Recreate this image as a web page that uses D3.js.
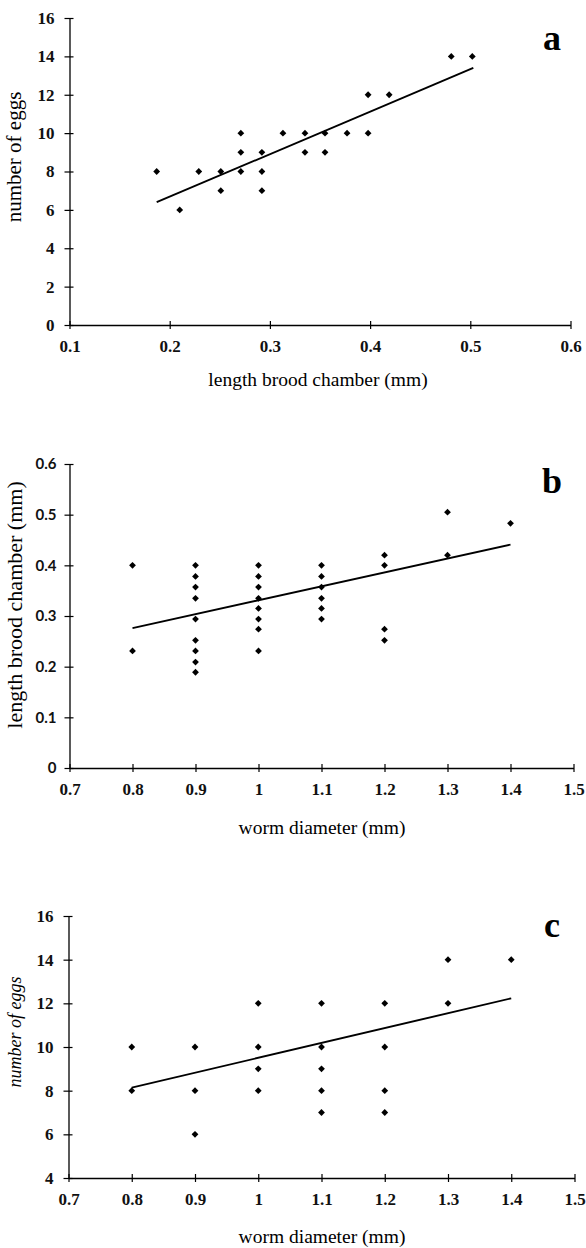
<!DOCTYPE html>
<html>
<head>
<meta charset="utf-8">
<script src="https://cdn.jsdelivr.net/npm/d3@7"></script>
<style>
  body { margin: 0; background: #fff; }
  svg { display: block; }
</style>
</head>
<body>
<svg id="chart" width="586" height="1248"></svg>
<script>
// panel a: length brood chamber (mm) vs number of eggs
const aLength = [0.187, 0.210, 0.229, 0.251, 0.251, 0.271, 0.271, 0.271, 0.292, 0.292, 0.292,
                 0.313, 0.335, 0.335, 0.355, 0.355, 0.377, 0.398, 0.398, 0.419, 0.481, 0.502];
const aEggs = [8, 6, 8, 8, 7, 10, 9, 8, 9, 8, 7, 10, 10, 9, 10, 9, 10, 12, 10, 12, 14, 14];
const aFit = [[0.187, 6.4], [0.503, 13.4]];

// panel b: worm diameter (mm) vs length brood chamber (mm)
const bDiam = [0.8, 0.8,
               0.9, 0.9, 0.9, 0.9, 0.9, 0.9, 0.9, 0.9, 0.9,
               1.0, 1.0, 1.0, 1.0, 1.0, 1.0, 1.0, 1.0,
               1.1, 1.1, 1.1, 1.1, 1.1, 1.1,
               1.2, 1.2, 1.2, 1.2,
               1.3, 1.3, 1.4];
const bLength = [0.40, 0.231,
                 0.40, 0.378, 0.357, 0.335, 0.294, 0.252, 0.231, 0.209, 0.189,
                 0.40, 0.378, 0.357, 0.335, 0.315, 0.294, 0.274, 0.231,
                 0.40, 0.378, 0.357, 0.335, 0.315, 0.294,
                 0.42, 0.40, 0.274, 0.252,
                 0.505, 0.42, 0.483];
const bFit = [[0.8, 0.276], [1.4, 0.441]];

// panel c: worm diameter (mm) vs number of eggs
const cDiam = [0.8, 0.8, 0.9, 0.9, 0.9, 1.0, 1.0, 1.0, 1.0,
               1.1, 1.1, 1.1, 1.1, 1.1, 1.2, 1.2, 1.2, 1.2, 1.3, 1.3, 1.4];
const cEggs = [10, 8, 10, 8, 6, 12, 10, 9, 8,
               12, 10, 9, 8, 7, 12, 10, 8, 7, 14, 12, 14];
const cFit = [[0.8, 8.14], [1.4, 12.23]];

const ticksA_x = [0.1, 0.2, 0.3, 0.4, 0.5, 0.6];
const ticksA_y = [0, 2, 4, 6, 8, 10, 12, 14, 16];
const ticksB_x = [0.7, 0.8, 0.9, 1, 1.1, 1.2, 1.3, 1.4, 1.5];
const ticksB_y = [0, 0.1, 0.2, 0.3, 0.4, 0.5, 0.6];
const ticksC_y = [4, 6, 8, 10, 12, 14, 16];

const svg = d3.select("#chart");
const serif = "'Liberation Serif', 'DejaVu Serif', serif";

function panel(opt) {
  const x = d3.scaleLinear().domain(opt.xDomain).range(opt.xRange);
  const y = d3.scaleLinear().domain(opt.yDomain).range(opt.yRange);
  const g = svg.append("g");

  // x axis, ticks cross the line
  const gx = g.append("g")
    .attr("transform", `translate(0,${opt.yRange[0]})`)
    .call(d3.axisBottom(x).tickValues(opt.xTicks).tickFormat(d => String(d))
      .tickSizeInner(4).tickSizeOuter(0));
  gx.selectAll(".tick line").attr("y1", -4).attr("stroke-width", 1.2);
  gx.select(".domain").attr("stroke-width", 1.3);
  gx.selectAll("text")
    .attr("y", 27).attr("dy", 0)
    .attr("font-family", serif).attr("font-size", 17).attr("font-weight", "bold")
    .attr("fill", "#111");

  const gy = g.append("g")
    .attr("transform", `translate(${opt.xRange[0]},0)`)
    .call(d3.axisLeft(y).tickValues(opt.yTicks).tickFormat(d => String(d))
      .tickSizeInner(5).tickSizeOuter(0).tickPadding(opt.yPad || 10));
  gy.selectAll(".tick line").attr("x1", 4).attr("stroke-width", 1.2);
  gy.select(".domain").attr("stroke-width", 1.3);
  gy.selectAll("text")
    .attr("font-family", opt.yTickFont || serif).attr("font-size", opt.yTickSize || 17)
    .attr("font-weight", "bold").attr("fill", "#111");

  // regression line
  g.append("path")
    .datum(opt.fit)
    .attr("fill", "none").attr("stroke", "#000").attr("stroke-width", 1.9)
    .attr("d", d3.line().x(d => x(d[0])).y(d => y(d[1])));

  // diamond markers (rotated squares)
  g.append("g").selectAll("path")
    .data(d3.zip(opt.xs, opt.ys))
    .join("path")
    .attr("transform", d => `translate(${x(d[0])},${y(d[1])}) rotate(45)`)
    .attr("d", d3.symbol(d3.symbolSquare, 23))
    .attr("fill", "#000");

  // axis titles
  g.append("text")
    .attr("x", opt.xTitleX)
    .attr("y", opt.xTitleY)
    .attr("text-anchor", "middle")
    .attr("font-family", serif).attr("font-size", 19.5)
    .text(opt.xTitle);
  g.append("text")
    .attr("transform", `translate(${opt.yTitleX},${opt.yTitleMid}) rotate(-90)`)
    .attr("text-anchor", "middle")
    .attr("font-family", serif).attr("font-size", opt.yTitleSize)
    .attr("font-style", opt.yTitleItalic ? "italic" : "normal")
    .text(opt.yTitle);

  // panel letter
  g.append("text")
    .attr("x", 552).attr("y", opt.letterY)
    .attr("text-anchor", "middle")
    .attr("font-family", serif).attr("font-size", 36).attr("font-weight", "bold")
    .text(opt.letter);
}

panel({
  xs: aLength, ys: aEggs, fit: aFit,
  xDomain: [0.1, 0.6], xRange: [69.5, 570.5],
  yDomain: [0, 16], yRange: [325, 18],
  xTicks: ticksA_x, yTicks: ticksA_y,
  xTitle: "length brood chamber (mm)", xTitleX: 318, xTitleY: 386,
  yTitle: "number of eggs", yTitleX: 21, yTitleMid: 157, yTitleSize: 21,
  letter: "a", letterY: 50
});

panel({
  xs: bDiam, ys: bLength, fit: bFit,
  xDomain: [0.7, 1.5], xRange: [69.5, 573.5],
  yDomain: [0, 0.6], yRange: [768, 464],
  xTicks: ticksB_x, yTicks: ticksB_y,
  yTickFont: "Lato, 'DejaVu Sans', sans-serif", yTickSize: 15, yPad: 8,
  xTitle: "worm diameter (mm)", xTitleX: 322, xTitleY: 834,
  yTitle: "length brood chamber (mm)", yTitleX: 22, yTitleMid: 605, yTitleSize: 22,
  yTitleItalic: false,
  letter: "b", letterY: 493
});

panel({
  xs: cDiam, ys: cEggs, fit: cFit,
  xDomain: [0.7, 1.5], xRange: [68.5, 574.5],
  yDomain: [4, 16], yRange: [1178, 916],
  xTicks: ticksB_x, yTicks: ticksC_y,
  xTitle: "worm diameter (mm)", xTitleX: 322, xTitleY: 1243,
  yTitle: "number of eggs", yTitleX: 21, yTitleMid: 1032, yTitleSize: 18,
  yTitleItalic: true,
  letter: "c", letterY: 937
});
</script>
</body>
</html>
